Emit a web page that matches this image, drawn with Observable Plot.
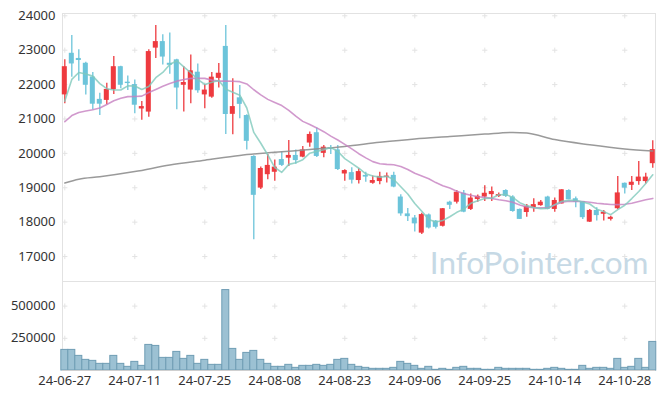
<!DOCTYPE html>
<html><head><meta charset="utf-8">
<script src="https://cdn.jsdelivr.net/npm/d3@7"></script>
<script src="https://cdn.jsdelivr.net/npm/@observablehq/plot@0.6"></script>
<style>
body{margin:0;background:#fff;}
#chart{width:665px;height:399px;overflow:hidden;}
#chart svg{display:block;}
</style></head><body><div id="chart"></div>
<script>
const dates = ["24-06-27","24-06-28","24-07-01","24-07-02","24-07-03","24-07-04","24-07-05","24-07-08","24-07-09","24-07-10",
"24-07-11","24-07-12","24-07-15","24-07-16","24-07-17","24-07-18","24-07-19","24-07-22","24-07-23","24-07-24",
"24-07-25","24-07-26","24-07-29","24-07-30","24-07-31","24-08-01","24-08-02","24-08-05","24-08-06","24-08-07",
"24-08-08","24-08-09","24-08-12","24-08-13","24-08-14","24-08-16","24-08-19","24-08-20","24-08-21","24-08-22",
"24-08-23","24-08-26","24-08-27","24-08-28","24-08-29","24-08-30","24-09-02","24-09-03","24-09-04","24-09-05",
"24-09-06","24-09-09","24-09-10","24-09-11","24-09-12","24-09-13","24-09-19","24-09-20","24-09-23","24-09-24",
"24-09-25","24-09-26","24-09-27","24-09-30","24-10-02","24-10-04","24-10-07","24-10-08","24-10-10","24-10-11",
"24-10-14","24-10-15","24-10-16","24-10-17","24-10-18","24-10-21","24-10-22","24-10-23","24-10-24","24-10-25",
"24-10-28","24-10-29","24-10-30","24-10-31","24-11-01"];

const opens = [21700,22910,22760,22620,22220,21570,21540,21850,22520,22070,
22000,21290,21200,23060,23250,22620,22720,21980,21840,22360,
21700,21635,22180,23110,21135,21615,21100,19910,18990,19380,
19450,19820,19860,19940,19890,20300,20600,20000,20160,20100,
19400,19440,19210,19360,19130,19180,19300,19360,18730,18240,
18120,17680,18210,18030,17880,18580,18580,18840,18370,18660,
18730,18800,18750,18920,18730,18370,18280,18420,18480,18730,
18370,18530,18920,18680,18600,18000,18340,18230,18080,18390,
19130,19070,19180,19180,19700];

const highs = [22720,23430,23010,22650,22350,21750,22040,22820,22530,22250,
22130,21510,23010,23720,23450,23500,22740,22520,22860,22600,
22000,22350,22610,23720,22170,21974,21120,19930,19600,19970,
19810,20040,20375,20100,20200,20620,20740,20230,20230,20230,
19520,19580,19550,19450,19340,19450,19430,19450,18800,18400,
18190,18260,18240,18050,18400,18610,18920,18920,18820,18790,
19060,19020,18850,18940,18770,18380,18510,18680,18630,18750,
18700,18940,18940,18730,18600,18370,18420,18340,18170,19330,
19140,19330,19760,19420,20370];

const lows = [21440,22210,22100,21700,21260,21100,21410,21710,21880,21830,
21150,20960,21050,22760,22570,22300,21270,21200,21440,21750,
21300,21600,21900,20550,20540,21005,20100,17490,18950,19230,
19190,19620,19620,19680,19870,20180,19880,19870,19970,19500,
19190,19110,19110,19160,19100,19085,19140,19000,18170,18020,
17710,17640,17800,17800,17860,18370,18530,18270,18340,18580,
18600,18600,18720,18720,18290,18080,18140,18290,18460,18360,
18290,18530,18650,18420,18080,17990,18030,18030,18030,18370,
18820,18920,19070,19110,19570];

const closes = [22520,22600,22700,21980,21430,21430,21860,22520,21980,22030,
21400,21360,22960,23250,22800,22560,21900,22060,22400,21820,
21840,22216,22330,21130,21360,21425,20350,18780,19560,19650,
19600,19650,19940,19790,20100,20550,19910,20180,20120,19530,
19500,19220,19470,19310,19210,19330,19340,19020,18240,18160,
17950,18220,17830,17850,18390,18490,18870,18290,18700,18750,
18840,18890,18800,18750,18310,18080,18460,18510,18580,18370,
18630,18940,18650,18580,18130,18340,18190,18290,18140,18850,
18990,19160,19310,19310,20110];

const ma5 = [21520,22150,22350,22310,22246,22028,21880,21844,21844,21964,
21958,21858,21946,22200,22354,22586,22694,22514,22344,22148,
22004,22067,22121,21867,21775,21692,21319,20609,20295,19953,
19588,19448,19680,19726,19816,20006,20058,20106,20172,20058,
19848,19710,19568,19406,19342,19308,19332,19242,19028,18818,
18542,18318,18080,18002,18048,18156,18286,18378,18548,18620,
18690,18694,18796,18806,18718,18566,18480,18422,18388,18400,
18510,18606,18634,18634,18586,18528,18378,18306,18218,18362,
18492,18686,18890,19124,19376];

const ma20 = [20920,21100,21190,21230,21270,21320,21420,21530,21600,21650,
21655,21665,21770,21860,21950,22030,22100,22150,22180,22180,
22180,22130,22100,22100,22095,22085,22020,21850,21700,21570,
21480,21390,21250,21080,20930,20840,20740,20630,20500,20390,
20260,20130,19990,19870,19760,19700,19680,19670,19620,19530,
19420,19340,19260,19150,19060,18990,18900,18830,18780,18740,
18720,18690,18650,18620,18580,18500,18440,18420,18415,18420,
18500,18580,18610,18605,18600,18580,18550,18530,18515,18510,
18520,18550,18600,18650,18690];

const maLongIdx = [0,2,5,10,15,20,25,30,35,40,45,50,55,60,64,66,70,75,80,84];
const maLong = [19140,19250,19320,19470,19660,19800,19940,20030,20110,20200,20320,20420,20490,20560,20610,20590,20400,20250,20130,20070];

const volumes = [160000,160000,113500,82600,74800,51600,51600,113500,51600,28400,
67000,36100,198700,190900,98000,98000,144500,90300,113500,51600,
82600,43900,43900,624400,167700,82600,136700,152200,82600,51600,
28400,28400,43900,20600,36100,36100,43900,36100,43900,82600,
90300,43900,28400,20600,12900,12900,12900,20600,67000,51600,
36100,12900,28400,5200,12900,5200,20600,28400,12900,12900,
5200,5200,20600,12900,12900,12900,12900,5200,5200,12900,
20600,12900,5200,5200,36100,12900,20600,20600,12900,90300,
20600,28400,90300,20600,221900];

const priceTicks = [17000,18000,19000,20000,21000,22000,23000,24000];
const volumeTicks = [250000,500000];
const dateTickIdx = [0,10,20,30,40,50,60,70,80];
const watermark = "InfoPointer.com";

const rows = dates.map((d,i)=>({i, date:d, open:opens[i], high:highs[i], low:lows[i], close:closes[i], ma5:ma5[i], ma20:ma20[i], vol:volumes[i]}));
const upRows = rows.filter(d=>d.close>=d.open);
const downRows = rows.filter(d=>d.close<d.open);
const longRows = maLongIdx.map((i,k)=>({i, v:maLong[k]}));

const W=665, ML=62, MR=10;
const xDomain=[-0.33, 84.39];
const UP="#ee3a3f", DOWN="#6cc4da";
const cross = {draw(ctx,size){const r=Math.sqrt(size/Math.PI); ctx.moveTo(-r,0);ctx.lineTo(r,0);ctx.moveTo(0,-r);ctx.lineTo(0,r);}};
const priceGrid = dateTickIdx.flatMap(x=>priceTicks.map(y=>({x,y})));
const volGrid = dateTickIdx.flatMap(x=>volumeTicks.map(y=>({x,y})));
const font = "'Noto Sans', 'Open Sans', sans-serif";

const main = Plot.plot({
  width: W, height: 281, marginLeft: ML, marginRight: MR, marginTop: 13, marginBottom: 0,
  style: {fontFamily: font, fontSize: "13px", color: "#333", background: "#fff"},
  x: {type: "linear", domain: xDomain, axis: null},
  y: {domain: [16274, 24067], ticks: priceTicks, tickSize: 0, tickPadding: 7, tickFormat: d=>String(d), label: null},
  marks: [
    Plot.ruleX([xDomain[0], xDomain[1]], {stroke: "#e2e2e2"}),
    Plot.ruleY([24067], {stroke: "#e2e2e2"}),
    Plot.dot(priceGrid, {x: "x", y: "y", symbol: cross, r: 2.6, stroke: "#e3e3e3", fill: "none", strokeWidth: 1}),
    Plot.ruleX(upRows, {x: "i", y1: "low", y2: "high", stroke: UP, strokeWidth: 1.3}),
    Plot.ruleX(downRows, {x: "i", y1: "low", y2: "high", stroke: DOWN, strokeWidth: 1.3}),
    Plot.rect(upRows, {x1: d=>d.i-0.36, x2: d=>d.i+0.36, y1: "open", y2: "close", fill: UP}),
    Plot.rect(downRows, {x1: d=>d.i-0.36, x2: d=>d.i+0.36, y1: "open", y2: "close", fill: DOWN}),
    Plot.line(longRows, {x: "i", y: "v", stroke: "#8f8f8f", strokeWidth: 1.5, strokeOpacity: 0.9, curve: "monotone-x"}),
    Plot.line(rows, {x: "i", y: "ma20", stroke: "#c680c0", strokeWidth: 1.6, strokeOpacity: 0.8}),
    Plot.line(rows, {x: "i", y: "ma5", stroke: "#7fc9bb", strokeWidth: 1.6, strokeOpacity: 0.8}),
    Plot.text([watermark], {frameAnchor: "bottom-right", text: d=>d, textAnchor: "end", lineAnchor: "bottom", dx: -7, dy: -8, fontSize: 31.5, fontFamily: "Lato, 'Open Sans', sans-serif", fill: "#c6d9e5"})
  ]
});

const vol = Plot.plot({
  width: W, height: 118, marginLeft: ML, marginRight: MR, marginTop: 0, marginBottom: 29,
  style: {fontFamily: font, fontSize: "13px", color: "#333", background: "#fff"},
  x: {type: "linear", domain: xDomain, ticks: dateTickIdx, tickSize: 0, tickPadding: 5, tickFormat: i=>dates[i], label: null},
  y: {domain: [0, 691000], ticks: volumeTicks, tickSize: 0, tickPadding: 7, tickFormat: d=>String(d), label: null},
  marks: [
    Plot.frame({stroke: "#e2e2e2"}),
    Plot.dot(volGrid, {x: "x", y: "y", symbol: cross, r: 2.6, stroke: "#e3e3e3", fill: "none", strokeWidth: 1}),
    Plot.rect(rows, {x1: d=>d.i-0.5, x2: d=>d.i+0.5, y1: 0, y2: "vol", fill: "#9cc1d3", stroke: "#6f9db4", strokeWidth: 1}),
    Plot.ruleY([0], {stroke: "#cfcfcf"})
  ]
});

const host = document.getElementById("chart");
host.appendChild(main);
host.appendChild(vol);
</script></body></html>
